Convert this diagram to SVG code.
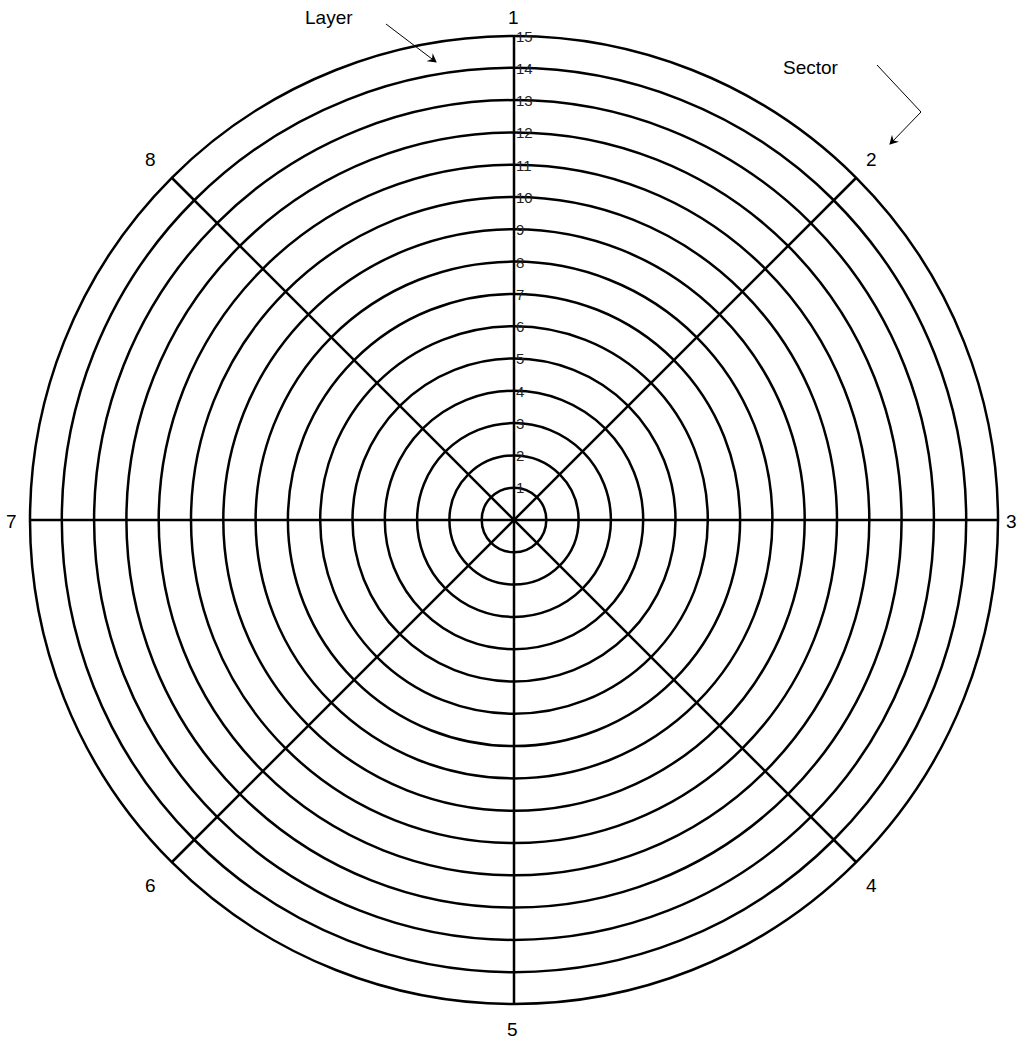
<svg xmlns="http://www.w3.org/2000/svg" width="1024" height="1042" viewBox="0 0 1024 1042">
<style>
.c{fill:none;stroke:#000;stroke-width:2.5}
.l{stroke:#000;stroke-width:2.5}
.t{font-family:"Liberation Sans",Arial,sans-serif;font-size:19px;fill:#000}
.n{font-family:"Liberation Sans",Arial,sans-serif;font-size:15px;fill:#222}
.a{fill:none;stroke:#000;stroke-width:1}
</style>
<defs><marker id="ah" markerWidth="10" markerHeight="10" refX="8" refY="5" orient="auto" markerUnits="userSpaceOnUse"><path d="M0,0 L9,5 L0,10 L3,5 Z" fill="#000"/></marker></defs>
<rect width="1024" height="1042" fill="#fff"/>
<g id="rings">
<circle class="c" cx="514" cy="520" r="32.3"/><circle class="c" cx="514" cy="520" r="64.6"/><circle class="c" cx="514" cy="520" r="96.9"/><circle class="c" cx="514" cy="520" r="129.2"/><circle class="c" cx="514" cy="520" r="161.5"/><circle class="c" cx="514" cy="520" r="193.8"/><circle class="c" cx="514" cy="520" r="226.1"/><circle class="c" cx="514" cy="520" r="258.4"/><circle class="c" cx="514" cy="520" r="290.7"/><circle class="c" cx="514" cy="520" r="323"/><circle class="c" cx="514" cy="520" r="355.3"/><circle class="c" cx="514" cy="520" r="387.6"/><circle class="c" cx="514" cy="520" r="419.9"/><circle class="c" cx="514" cy="520" r="452.2"/><circle class="c" cx="514" cy="520" r="484"/>
</g>
<g id="sectors">
<line class="l" x1="514" y1="36" x2="514" y2="1004"/>
<line class="l" x1="30" y1="520" x2="998" y2="520"/>
<line class="l" x1="172" y1="178" x2="856" y2="862"/>
<line class="l" x1="856" y1="178" x2="172" y2="862"/>
</g>
<g id="sector-labels" class="t">
<text x="508" y="24">1</text><text x="866" y="166">2</text><text x="1006" y="528">3</text><text x="866" y="892">4</text><text x="507" y="1036">5</text><text x="145" y="892">6</text><text x="6" y="528">7</text><text x="145" y="166">8</text>
<text x="305" y="24">Layer</text><text x="783" y="74">Sector</text>
</g>
<g id="layer-labels" class="n">
<text x="516" y="493">1</text><text x="516" y="461">2</text><text x="516" y="429">3</text><text x="516" y="397">4</text><text x="516" y="364">5</text><text x="516" y="332">6</text><text x="516" y="300">7</text><text x="516" y="268">8</text><text x="516" y="235">9</text><text x="516" y="203">10</text><text x="516" y="171">11</text><text x="516" y="138">12</text><text x="516" y="106">13</text><text x="516" y="74">14</text><text x="516" y="42">15</text>
</g>
<g id="connectors">
<path class="a" d="M386,24 L436,62" marker-end="url(#ah)"/>
<path class="a" d="M877,65 L921,112 L890,144" marker-end="url(#ah)"/>
</g>
</svg>
